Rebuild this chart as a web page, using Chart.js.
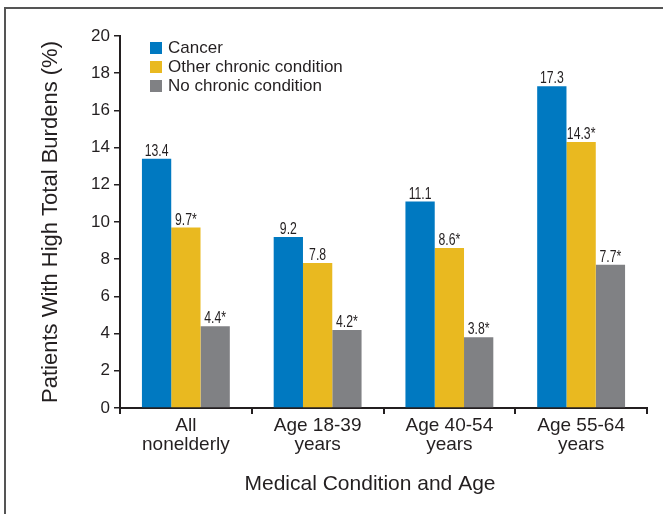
<!DOCTYPE html>
<html>
<head>
<meta charset="utf-8">
<script src="https://cdn.jsdelivr.net/npm/chart.js@4"></script>
<style>
  html, body { margin: 0; padding: 0; background: #fff; }
  #wrap { width: 663px; height: 514px; position: relative; }
</style>
</head>
<body>
<div id="wrap"><canvas id="chart" width="663" height="514"></canvas></div>
<script>
const categories = [["All", "nonelderly"], ["Age 18-39", "years"], ["Age 40-54", "years"], ["Age 55-64", "years"]];
const seriesNames = ["Cancer", "Other chronic condition", "No chronic condition"];
const cancer = [13.4, 9.2, 11.1, 17.3];
const otherChronic = [9.7, 7.8, 8.6, 14.3];
const noChronic = [4.4, 4.2, 3.8, 7.7];
// asterisk = significant difference vs cancer
const cancerSig = [false, false, false, false];
const otherSig = [true, false, true, true];
const noneSig = [true, true, true, true];
const yTicks = [0, 2, 4, 6, 8, 10, 12, 14, 16, 18, 20];

const colors = ["#0079c1", "#e9b920", "#808184"];
const sans = '"Liberation Sans", Arial, sans-serif';

const extras = {
  id: "extras",
  beforeDraw(chart) {
    const ctx = chart.ctx;
    ctx.save();
    ctx.strokeStyle = "#555";
    ctx.lineWidth = 2;
    ctx.strokeRect(5, 8, 700, 600);
    ctx.restore();
  },
  afterDraw(chart) {
    const ctx = chart.ctx;
    ctx.save();
    // value labels, squeezed to look condensed
    ctx.font = "17px " + sans;
    ctx.fillStyle = "#231f20";
    ctx.textAlign = "center";
    ctx.textBaseline = "alphabetic";
    chart.data.datasets.forEach((ds, i) => {
      chart.getDatasetMeta(i).data.forEach((bar, j) => {
        const txt = ds.data[j].toFixed(1) + (ds.sig[j] ? "*" : "");
        ctx.save();
        ctx.translate(bar.x, bar.y - 3);
        ctx.scale(0.72, 1);
        ctx.fillText(txt, 0, 0);
        ctx.restore();
      });
    });
    // legend
    ctx.font = "17px " + sans;
    ctx.textAlign = "left";
    ctx.textBaseline = "middle";
    chart.data.datasets.forEach((ds, i) => {
      const y = 48 + i * 19;
      ctx.fillStyle = ds.backgroundColor;
      ctx.fillRect(150, y - 6, 12, 12);
      ctx.fillStyle = "#231f20";
      ctx.fillText(ds.label, 168, y);
    });
    // x axis title
    ctx.font = "21px " + sans;
    ctx.textAlign = "center";
    ctx.fillText("Medical Condition and Age", 370, 484);
    ctx.restore();
  }
};

new Chart(document.getElementById("chart"), {
  type: "bar",
  data: {
    labels: categories,
    datasets: [
      { label: seriesNames[0], data: cancer, sig: cancerSig, backgroundColor: colors[0] },
      { label: seriesNames[1], data: otherChronic, sig: otherSig, backgroundColor: colors[1] },
      { label: seriesNames[2], data: noChronic, sig: noneSig, backgroundColor: colors[2] }
    ]
  },
  options: {
    responsive: false,
    animation: false,
    categoryPercentage: 0.667,
    barPercentage: 1,
    layout: { padding: { top: 36, right: 16, left: 0, bottom: 0 } },
    plugins: { legend: { display: false }, tooltip: { enabled: false } },
    scales: {
      x: {
        offset: true,
        grid: { offset: true, drawOnChartArea: false, drawTicks: true, tickLength: 6, color: "#231f20", lineWidth: 2 },
        border: { color: "#231f20", width: 2 },
        ticks: { font: { size: 19, family: sans, lineHeight: 1.0 }, color: "#231f20", padding: 2, maxRotation: 0 },
        afterFit(scale) { scale.height = 106; }
      },
      y: {
        min: 0,
        max: 20,
        afterBuildTicks(scale) { scale.ticks = yTicks.map(v => ({ value: v })); },
        grid: { drawOnChartArea: false, drawTicks: true, tickLength: 6, color: "#231f20", lineWidth: 1.5 },
        border: { color: "#231f20", width: 2 },
        ticks: { font: { size: 17, family: sans }, color: "#231f20", padding: 4 },
        title: {
          display: true,
          text: "Patients With High Total Burdens (%)",
          font: { size: 22, family: sans },
          color: "#231f20",
          padding: { top: 38, bottom: 0 }
        },
        afterFit(scale) { scale.width = 120; }
      }
    }
  },
  plugins: [extras]
});
</script>
</body>
</html>
